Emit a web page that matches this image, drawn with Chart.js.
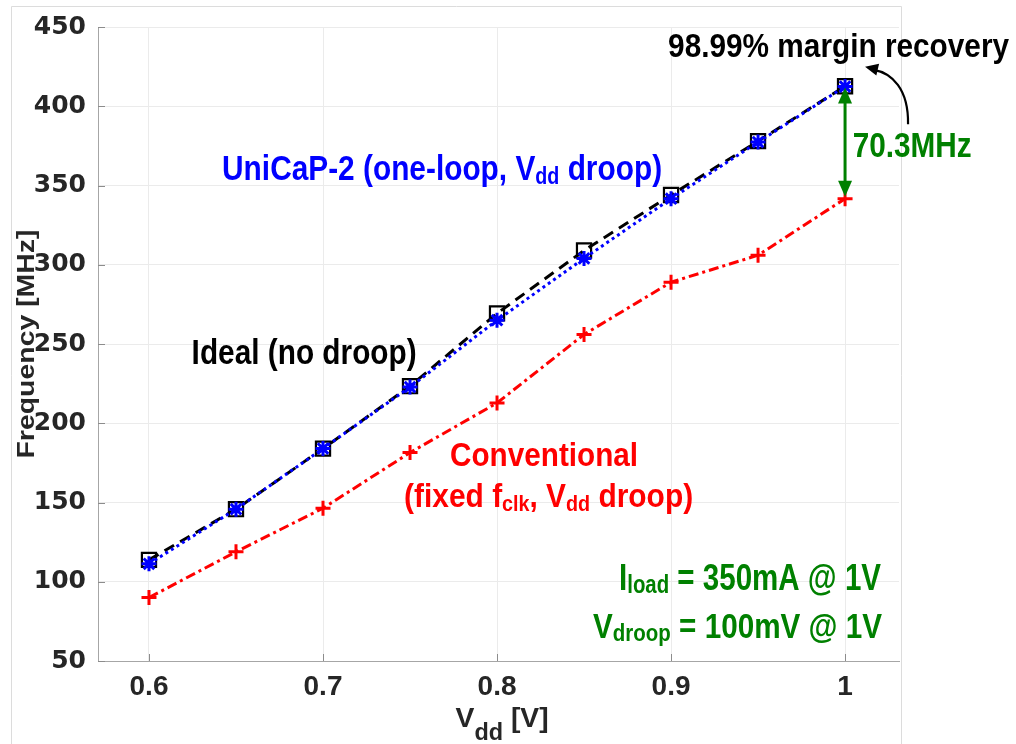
<!DOCTYPE html>
<html lang="en">
<head>
<meta charset="UTF-8">
<title>Frequency vs Vdd</title>
<script src="https://cdn.jsdelivr.net/npm/chart.js"></script>
<style>
  html, body { margin: 0; padding: 0; background: #fff; }
  #wrap { width: 1016px; height: 744px; }
</style>
</head>
<body>
<div id="wrap"><canvas id="grafico" width="1016" height="744"></canvas></div>
<script>
// supply voltage (x axis)
var vdd = [0.6, 0.65, 0.7, 0.75, 0.8, 0.85, 0.9, 0.95, 1.0];
// frequency in MHz for each curve
var ideal = [113.8, 145.8, 184, 223.4, 269.3, 309, 344, 378, 412.6];
var unicap = [111.3, 145.8, 184, 222.8, 265, 304, 341.7, 377.4, 412.4];
var convencional = [90, 118.9, 146.4, 181.5, 212.8, 256, 289, 306, 341.7];
// tick labels
var xTicks = [0.6, 0.7, 0.8, 0.9, 1];
var yTicks = [50, 100, 150, 200, 250, 300, 350, 400, 450];
var xLimits = [0.5707, 1.031];
var yLimits = [50, 450];

var FONT = '"Liberation Sans", Arial, sans-serif';
var GREEN = '#008000';

function pontos(ys) {
  return vdd.map(function (v, i) { return { x: v, y: ys[i] }; });
}

// draws bold text (with optional subscripts) squeezed to a given width
function textoRico(ctx, partes, x, y, largura, cap, cor) {
  var size = cap / 0.716;
  ctx.save();
  ctx.fillStyle = cor;
  ctx.textBaseline = 'alphabetic';
  ctx.textAlign = 'left';
  var total = 0;
  partes.forEach(function (p) {
    ctx.font = 'bold ' + (p.sub ? size * p.sub : size) + 'px ' + FONT;
    p.w = ctx.measureText(p.t).width;
    total += p.w;
  });
  ctx.translate(x, y);
  ctx.scale(largura / total, 1);
  var cx = 0;
  partes.forEach(function (p) {
    ctx.font = 'bold ' + (p.sub ? size * p.sub : size) + 'px ' + FONT;
    ctx.fillText(p.t, cx, p.sub ? p.shift : 0);
    cx += p.w;
  });
  ctx.restore();
}

function seta(ctx, x1, y1, x2, y2, comp, meia) {
  var a = Math.atan2(y2 - y1, x2 - x1);
  ctx.beginPath();
  ctx.moveTo(x2, y2);
  ctx.lineTo(x2 - comp * Math.cos(a) + meia * Math.sin(a), y2 - comp * Math.sin(a) - meia * Math.cos(a));
  ctx.lineTo(x2 - comp * Math.cos(a) - meia * Math.sin(a), y2 - comp * Math.sin(a) + meia * Math.cos(a));
  ctx.closePath();
  ctx.fill();
}

var extras = {
  id: 'extras',
  beforeDraw: function (chart) {
    var ctx = chart.ctx;
    ctx.save();
    ctx.fillStyle = '#fff';
    ctx.fillRect(0, 0, chart.width, chart.height);
    // outer frame
    ctx.strokeStyle = '#dcdcdc';
    ctx.lineWidth = 1;
    ctx.beginPath();
    ctx.moveTo(11.5, 744);
    ctx.lineTo(11.5, 6.5);
    ctx.lineTo(901.5, 6.5);
    ctx.lineTo(901.5, 744);
    ctx.stroke();
    ctx.restore();
  },
  afterDraw: function (chart) {
    var ctx = chart.ctx;
    var sx = chart.scales.x, sy = chart.scales.y;
    var area = chart.chartArea;
    function px(v) { return sx.getPixelForValue(v); }
    function py(v) { return sy.getPixelForValue(v); }
    ctx.save();

    // inner tick marks
    ctx.strokeStyle = '#8c8c8c';
    ctx.lineWidth = 1;
    ctx.beginPath();
    xTicks.forEach(function (t) {
      var x = Math.round(px(t)) + 0.5;
      ctx.moveTo(x, area.bottom);
      ctx.lineTo(x, area.bottom - 7);
    });
    yTicks.forEach(function (t) {
      var y = Math.round(py(t)) + 0.5;
      ctx.moveTo(area.left, y);
      ctx.lineTo(area.left + 7, y);
    });
    ctx.stroke();

    // green double arrow between the curves at 1 V
    var xa = px(vdd[8]);
    var yTop = py(unicap[8]) + 1;
    var yBot = py(convencional[8]) - 2;
    ctx.strokeStyle = GREEN;
    ctx.fillStyle = GREEN;
    ctx.lineWidth = 3;
    ctx.beginPath();
    ctx.moveTo(xa, yTop + 10);
    ctx.lineTo(xa, yBot - 10);
    ctx.stroke();
    seta(ctx, xa, yBot, xa, yTop, 16, 7);
    seta(ctx, xa, yTop, xa, yBot, 16, 7);

    // curved black arrow to the title
    ctx.strokeStyle = '#000';
    ctx.fillStyle = '#000';
    ctx.lineWidth = 2.2;
    var p0 = [px(1.0362), py(388.7)];
    var c1 = [px(1.0365), py(411)];
    var c2 = [px(1.027), py(421)];
    var p3 = [px(1.0115), py(425)];
    ctx.beginPath();
    ctx.moveTo(p0[0], p0[1]);
    ctx.bezierCurveTo(c1[0], c1[1], c2[0], c2[1], p3[0] + 8, p3[1] + 3);
    ctx.stroke();
    seta(ctx, c2[0], c2[1], p3[0], p3[1], 13, 6);

    // annotations
    textoRico(ctx, [{ t: '98.99% margin recovery' }], px(0.8983), py(431.0), 341, 23.3, '#000');
    textoRico(ctx, [{ t: '70.3MHz' }], px(1.0044), py(367.8), 119, 25, GREEN);
    textoRico(ctx, [{ t: 'UniCaP-2 (one-loop, V' }, { t: 'dd', sub: 0.66, shift: 4 }, { t: ' droop)' }],
      px(0.6420), py(353.6), 440, 25.3, '#0000ff');
    textoRico(ctx, [{ t: 'Ideal (no droop)' }], px(0.6245), py(237.4), 225, 25.7, '#000');
    textoRico(ctx, [{ t: 'Conventional' }], px(0.7730), py(173.0), 188, 24, '#ff0000');
    textoRico(ctx, [{ t: '(fixed f' }, { t: 'clk', sub: 0.66, shift: 4.3 }, { t: ', V' },
      { t: 'dd', sub: 0.66, shift: 4.3 }, { t: ' droop)' }], px(0.7466), py(147.2), 289, 24, '#ff0000');
    textoRico(ctx, [{ t: 'I' }, { t: 'load', sub: 0.69, shift: 3.4 }, { t: ' = 350mA @ 1V' }],
      px(0.8701), py(94.9), 262, 26, GREEN);
    textoRico(ctx, [{ t: 'V' }, { t: 'droop', sub: 0.69, shift: 3.4 }, { t: ' = 100mV @ 1V' }],
      px(0.8552), py(64.8), 289, 25.6, GREEN);

    // axis titles
    textoRico(ctx, [{ t: 'V' }, { t: 'dd', sub: 0.83, shift: 13 }, { t: ' [V]' }], 455.6, 727, 93, 20.3, '#262626');
    ctx.save();
    ctx.translate(34, (area.top + area.bottom) / 2 + 114.5);
    ctx.rotate(-Math.PI / 2);
    textoRico(ctx, [{ t: 'Frequency [MHz]' }], 0, 0, 229, 17.5, '#262626');
    ctx.restore();

    ctx.restore();
  }
};

var ctx = document.getElementById('grafico').getContext('2d');
var grafico = new Chart(ctx, {
  type: 'scatter',
  data: {
    datasets: [{
      label: 'UniCaP-2 (one-loop, Vdd droop)',
      data: pontos(unicap),
      showLine: true,
      borderColor: '#0000ff',
      borderWidth: 3,
      borderDash: [3, 3.5],
      pointStyle: 'star',
      pointRadius: 7.5,
      pointBorderWidth: 3,
      pointBorderColor: '#0000ff',
      pointBackgroundColor: '#0000ff'
    }, {
      label: 'Ideal (no droop)',
      data: pontos(ideal),
      showLine: true,
      borderColor: '#000',
      borderWidth: 3,
      borderDash: [11, 7],
      pointStyle: 'rect',
      pointRadius: 10,
      pointBorderWidth: 2.2,
      pointBorderColor: '#000',
      pointBackgroundColor: 'rgba(0,0,0,0)'
    }, {
      label: 'Conventional',
      data: pontos(convencional),
      showLine: true,
      borderColor: '#ff0000',
      borderWidth: 3,
      borderDash: [10, 4, 3, 4],
      pointStyle: 'cross',
      pointRadius: 7.5,
      pointBorderWidth: 3,
      pointBorderColor: '#ff0000'
    }]
  },
  options: {
    responsive: false,
    animation: false,
    layout: { padding: { left: 0, top: 22, right: 117, bottom: 0 } },
    plugins: {
      legend: { display: false },
      tooltip: { enabled: false }
    },
    scales: {
      x: {
        type: 'linear',
        min: xLimits[0],
        max: xLimits[1],
        afterBuildTicks: function (s) { s.ticks = xTicks.map(function (v) { return { value: v }; }); },
        afterFit: function (s) { s.height = 83; },
        grid: { color: '#ebebeb', drawTicks: false },
        border: { color: '#a6a6a6', width: 1 },
        ticks: {
          padding: 9,
          color: '#262626',
          font: { family: FONT, size: 28, weight: 'bold' },
          callback: function (v) { return String(v); }
        }
      },
      y: {
        type: 'linear',
        min: yLimits[0],
        max: yLimits[1],
        afterBuildTicks: function (s) { s.ticks = yTicks.map(function (v) { return { value: v }; }); },
        afterFit: function (s) { s.width = 98; },
        grid: { color: '#ebebeb', drawTicks: false },
        border: { color: '#a6a6a6', width: 1 },
        ticks: {
          padding: 12,
          color: '#262626',
          font: { family: '"DejaVu Sans", sans-serif', size: 25, weight: 'bold' }
        }
      }
    }
  },
  plugins: [extras]
});
</script>
</body>
</html>
